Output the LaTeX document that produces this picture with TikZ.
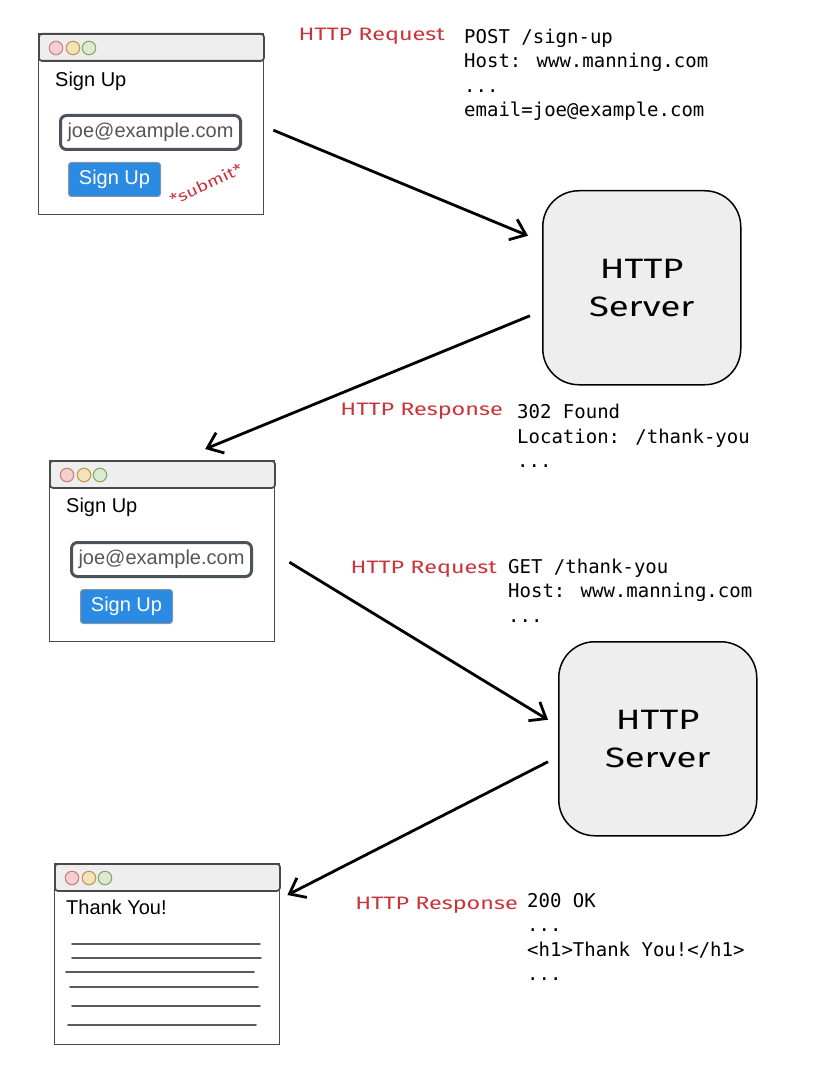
\documentclass[tikz,border=0pt]{standalone}
\usepackage{fontspec}
\setmainfont{Liberation Sans}
\newfontfamily\codefont{DejaVu Sans Mono}
\newfontfamily\sketchfont[FakeStretch=1.3]{Fira Sans}
\usepackage{tikz}
\usetikzlibrary{arrows.meta, positioning, calc}

\definecolor{barfill}{HTML}{EEEEEE}
\definecolor{winline}{HTML}{4A4A4A}
\definecolor{fieldline}{HTML}{4B5259}
\definecolor{fieldtext}{HTML}{555555}
\definecolor{btnblue}{HTML}{2B8AE2}
\definecolor{btnline}{HTML}{8A949E}
\definecolor{sketchred}{HTML}{C9343A}
\definecolor{textgray}{HTML}{5A5A5A}
\definecolor{dotred}{HTML}{F4CFCF}
\definecolor{dotredline}{HTML}{D08080}
\definecolor{dotyellow}{HTML}{F3E2BC}
\definecolor{dotyellowline}{HTML}{C09A50}
\definecolor{dotgreen}{HTML}{DCEBD0}
\definecolor{dotgreenline}{HTML}{88A86E}

\begin{document}
\begin{tikzpicture}[
            x=1pt, y=-1pt,
            win/.style    ={draw=winline, line width=1.4pt, anchor=north west, inner sep=0,
                            minimum width=225pt, minimum height=181pt},
            bar/.style    ={draw=winline, fill=barfill, line width=1.8pt, rounded corners=3pt,
                            anchor=north west, inner sep=0, minimum width=225pt, minimum height=27pt},
            dot/.style    ={circle, line width=1.1pt, minimum size=13.5pt, inner sep=0},
            wtitle/.style ={anchor=west, inner sep=0, font=\fontsize{20}{24}\selectfont},
            field/.style  ={draw=fieldline, line width=3pt, rounded corners=6pt, anchor=north west,
                            minimum width=180pt, minimum height=34pt, inner sep=0, text=fieldtext,
                            font=\fontsize{20}{24}\selectfont},
            btn/.style    ={fill=btnblue, draw=btnline, line width=1pt, rounded corners=3pt,
                            anchor=north west, minimum width=92pt, minimum height=34pt, inner sep=0,
                            text=white, font=\fontsize{20}{24}\selectfont},
            server/.style ={draw=black, fill=barfill, line width=1.5pt, rounded corners=36pt,
                            anchor=north west, minimum width=198pt, minimum height=194pt,
                            align=center, font=\sketchfont\fontsize{28}{38}\selectfont},
            flow/.style   ={-{Straight Barb[length=14pt,width=22pt]}, line width=2.8pt},
            tag/.style    ={anchor=base east, inner sep=0, text=sketchred,
                            font=\sketchfont\fontsize{18}{20}\selectfont},
            msg/.style    ={anchor=north west, inner sep=0, align=left,
                            font=\codefont\fontsize{19}{24.5}\selectfont},
            textline/.style={draw=textgray, line width=1.6pt, line cap=round}
        ]
        \useasboundingbox (0,0) rectangle (822,1067);

        %% ---- first browser: sign-up form being submitted ---------------------
        \node[win] (b1) at (38,33) {};
        \node[bar] (b1bar) at (b1.north west) {};
        \node[dot, fill=dotred, draw=dotredline] at ($(b1.north west)+(18,15)$) {};
        \node[dot, fill=dotyellow, draw=dotyellowline] at ($(b1.north west)+(35,15)$) {};
        \node[dot, fill=dotgreen, draw=dotgreenline] at ($(b1.north west)+(51,15)$) {};
        \node[wtitle] (b1title) at ($(b1.north west)+(17,48)$) {Sign Up};
        \node[field] (b1mail) at ($(b1.north west)+(21,81)$) {joe@example.com};
        \node[btn] (b1btn) at ($(b1.north west)+(30,129)$) {Sign Up};
        \node[text=sketchred, rotate=25, font=\sketchfont\fontsize{15}{17}\selectfont]
            (submit) at (206,184) {*submit*};

        %% ---- request 1 -------------------------------------------------------
        \node[tag] (req1) at (445,41) {HTTP Request};
        \node[msg] (msg1) at (464,28.5)
            {POST /sign-up\\Host: www.manning.com\\...\\email=joe@example.com};

        \node[server] (s1) at (542,190) {HTTP\\Server};
        \draw[flow] ($(b1.east)+(9,6)$) -- ($(s1.west)+(-14,-52)$);

        %% ---- response 1: redirect -------------------------------------------
        \node[tag] (res1) at (503,415) {HTTP Response};
        \node[msg] (msg2) at (517,404) {302 Found\\Location: /thank-you\\...};

        %% ---- second browser: same form after the redirect --------------------
        \node[win] (b2) at (49,460) {};
        \node[bar] (b2bar) at (b2.north west) {};
        \node[dot, fill=dotred, draw=dotredline] at ($(b2.north west)+(18,15)$) {};
        \node[dot, fill=dotyellow, draw=dotyellowline] at ($(b2.north west)+(35,15)$) {};
        \node[dot, fill=dotgreen, draw=dotgreenline] at ($(b2.north west)+(51,15)$) {};
        \node[wtitle] (b2title) at ($(b2.north west)+(17,47)$) {Sign Up};
        \node[field] (b2mail) at ($(b2.north west)+(21,81)$) {joe@example.com};
        \node[btn] (b2btn) at ($(b2.north west)+(31,129)$) {Sign Up};

        \draw[flow] ($(s1.west)+(-12,28)$) -- ($(b2.north)+(43,-11)$);

        %% ---- request 2 -------------------------------------------------------
        \node[tag] (req2) at (497,573) {HTTP Request};
        \node[msg] (msg3) at (508,558.5) {GET /thank-you\\Host: www.manning.com\\...};

        \node[server] (s2) at (558,641) {HTTP\\Server};
        \draw[flow] ($(b2.east)+(14,11)$) -- ($(s2.west)+(-10,-19)$);

        %% ---- response 2: thank-you page --------------------------------------
        \node[tag] (res2) at (518,909) {HTTP Response};
        \node[msg] (msg4) at (527,893) {200 OK\\...\\<h1>Thank You!</h1>\\...};

        \node[win] (b3) at (54,863) {};
        \node[bar] (b3bar) at (b3.north west) {};
        \node[dot, fill=dotred, draw=dotredline] at ($(b3.north west)+(18,15)$) {};
        \node[dot, fill=dotyellow, draw=dotyellowline] at ($(b3.north west)+(35,15)$) {};
        \node[dot, fill=dotgreen, draw=dotgreenline] at ($(b3.north west)+(51,15)$) {};
        \node[wtitle] (b3title) at ($(b3.north west)+(12,44)$) {Thank You!};
        \foreach \yy/\xa/\xb in {81/18/206, 95/18/207, 109/12/200, 124/16/204, 143/18/206, 162/14/202}
            \draw[textline] ($(b3.north west)+(\xa,\yy)$) -- ($(b3.north west)+(\xb,\yy)$);

        \draw[flow] ($(s2.west)+(-10,23)$) -- ($(b3.north east)+(7,32)$);
    \end{tikzpicture}
\end{document}
